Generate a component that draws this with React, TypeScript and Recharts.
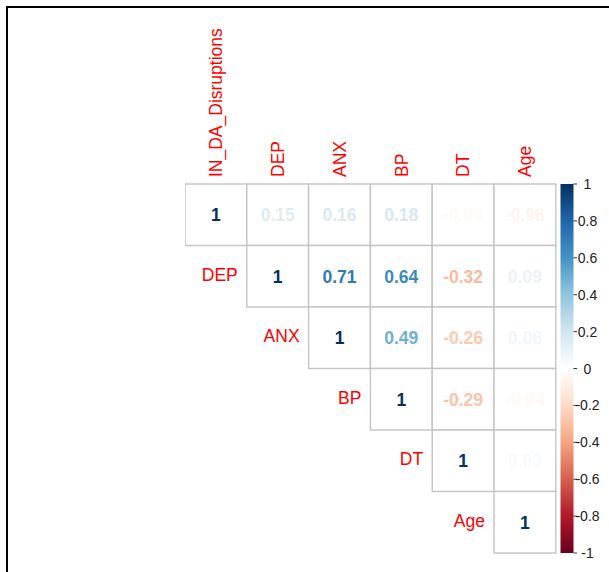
import React from "react";
import { ScatterChart, Scatter, XAxis, YAxis, ReferenceArea } from "recharts";

// ---------- data ----------
const variables = ["IN_DA_Disruptions", "DEP", "ANX", "BP", "DT", "Age"];
// upper-triangle rows (starting at the diagonal)
const rowIN = [1, 0.15, 0.16, 0.18, -0.03, -0.06];
const rowDEP = [1, 0.71, 0.64, -0.32, 0.09];
const rowANX = [1, 0.49, -0.26, 0.06];
const rowBP = [1, -0.29, -0.04];
const rowDT = [1, 0.03];
const rowAge = [1];
const upperRows = [rowIN, rowDEP, rowANX, rowBP, rowDT, rowAge];
const colorbarTicks = [-1, -0.8, -0.6, -0.4, -0.2, 0, 0.2, 0.4, 0.6, 0.8, 1];
const paletteStops = [
  "#67001F", "#B2182B", "#D6604D", "#F4A582", "#FDDBC7", "#FFFFFF",
  "#D1E5F0", "#92C5DE", "#4393C3", "#2166AC", "#053061",
];

// ---------- layout ----------
const W = 609;
const H = 572;
const PLOT_LEFT = 185;
const PLOT_RIGHT = 573.5;
const PLOT_TOP = 184;
const PLOT_BOTTOM = 553;
const CELL_W = 61.8;
const CELL_H = (PLOT_BOTTOM - PLOT_TOP) / variables.length;
const X_MAX = variables.length - 0.5 + (PLOT_RIGHT - (PLOT_LEFT + variables.length * CELL_W)) / CELL_W;
const CB_X1 = variables.length - 0.5 + (560.5 - (PLOT_LEFT + variables.length * CELL_W)) / CELL_W;
const X_AXIS_H = 30;
const CB_AXIS_W = 35;
const FONT = "'Liberation Sans', Arial, Helvetica, sans-serif";

const points = upperRows.flatMap((row, i) =>
  row.map((v, k) => ({ x: i + k, y: i, v }))
);

function hexToRgb(h: string) {
  const n = parseInt(h.slice(1), 16);
  return [(n >> 16) & 255, (n >> 8) & 255, n & 255];
}
function colorFor(v: number) {
  const pos = ((v + 1) / 2) * (paletteStops.length - 1);
  const i = Math.min(Math.floor(pos), paletteStops.length - 2);
  const t = pos - i;
  const a = hexToRgb(paletteStops[i]);
  const b = hexToRgb(paletteStops[i + 1]);
  const c = a.map((av, j) => Math.round(av + (b[j] - av) * t));
  return `rgb(${c[0]},${c[1]},${c[2]})`;
}
const fmt = (v: number) => (v === 1 ? "1" : v.toFixed(2));

const CellShape = (props: any) => {
  const { cx, cy, payload } = props;
  const left = cx - CELL_W / 2;
  const top = cy - CELL_H / 2;
  return (
    <g>
      <rect x={left} y={top} width={CELL_W} height={CELL_H} fill="#ffffff" stroke="#c4c4c4" strokeWidth={1.4} />
      <text x={cx} y={cy + 6.5} textAnchor="middle" fontFamily={FONT} fontWeight="bold" fontSize={17.5} fill={colorFor(payload.v)}>
        {fmt(payload.v)}
      </text>
      {payload.x === payload.y && (
        <text x={left - 9} y={cy + 4.5} textAnchor="end" fontFamily={FONT} fontSize={17.5} fill="#FF0000">
          {variables[payload.y]}
        </text>
      )}
    </g>
  );
};

const ColTick = (props: any) => {
  const { x, payload } = props;
  const y = PLOT_TOP - 7;
  return (
    <text x={x} y={y} dy="0.36em" transform={`rotate(-90, ${x}, ${y})`} textAnchor="start" fontFamily={FONT} fontSize={17.5} fill="#FF0000">
      {variables[payload.value]}
    </text>
  );
};

const CbTick = (props: any) => {
  const { y, payload } = props;
  const label = Number(payload.value.toFixed(1)).toString();
  return (
    <text x={587.5} y={y + 5} textAnchor="middle" fontFamily={FONT} fontSize={14} fill="#222">
      {label}
    </text>
  );
};

export default function App() {
  return (
    <div style={{ position: "absolute", left: 0, top: 0, width: W, height: H, background: "#fff", overflow: "hidden" }}>
      <div style={{ position: "absolute", left: 6, top: 6, width: W, height: H, borderTop: "2px solid #000", borderLeft: "2px solid #000" }} />
      <div style={{ position: "absolute", left: 0, top: 0 }}>
        <ScatterChart
          width={W}
          height={H}
          margin={{ top: PLOT_TOP - X_AXIS_H, left: PLOT_LEFT, right: W - PLOT_RIGHT - CB_AXIS_W, bottom: H - PLOT_BOTTOM }}
        >
          <defs>
            <linearGradient id="cbGrad" x1="0" y1="1" x2="0" y2="0">
              {paletteStops.map((c, i) => (
                <stop key={i} offset={`${(i / (paletteStops.length - 1)) * 100}%`} stopColor={c} />
              ))}
            </linearGradient>
          </defs>
          <XAxis
            type="number"
            dataKey="x"
            orientation="top"
            domain={[-0.5, X_MAX]}
            ticks={variables.map((_, i) => i)}
            height={X_AXIS_H}
            axisLine={false}
            tickLine={false}
            tick={<ColTick />}
            interval={0}
            allowDataOverflow
          />
          <YAxis yAxisId="cells" type="number" dataKey="y" domain={[-0.5, variables.length - 0.5]} reversed hide />
          <YAxis
            yAxisId="cb"
            orientation="right"
            type="number"
            domain={[-1, 1]}
            ticks={colorbarTicks}
            width={CB_AXIS_W}
            axisLine={false}
            tickLine={{ stroke: "#333", strokeWidth: 1 }}
            tickSize={3.5}
            tick={<CbTick />}
            interval={0}
            allowDataOverflow
          />
          <ReferenceArea
            yAxisId="cb"
            x1={CB_X1}
            x2={X_MAX}
            y1={-1}
            y2={1}
            fill="url(#cbGrad)"
            fillOpacity={1}
            stroke="none"
            ifOverflow="visible"
          />
          <Scatter yAxisId="cells" data={points} shape={<CellShape />} isAnimationActive={false} />
        </ScatterChart>
      </div>
    </div>
  );
}
